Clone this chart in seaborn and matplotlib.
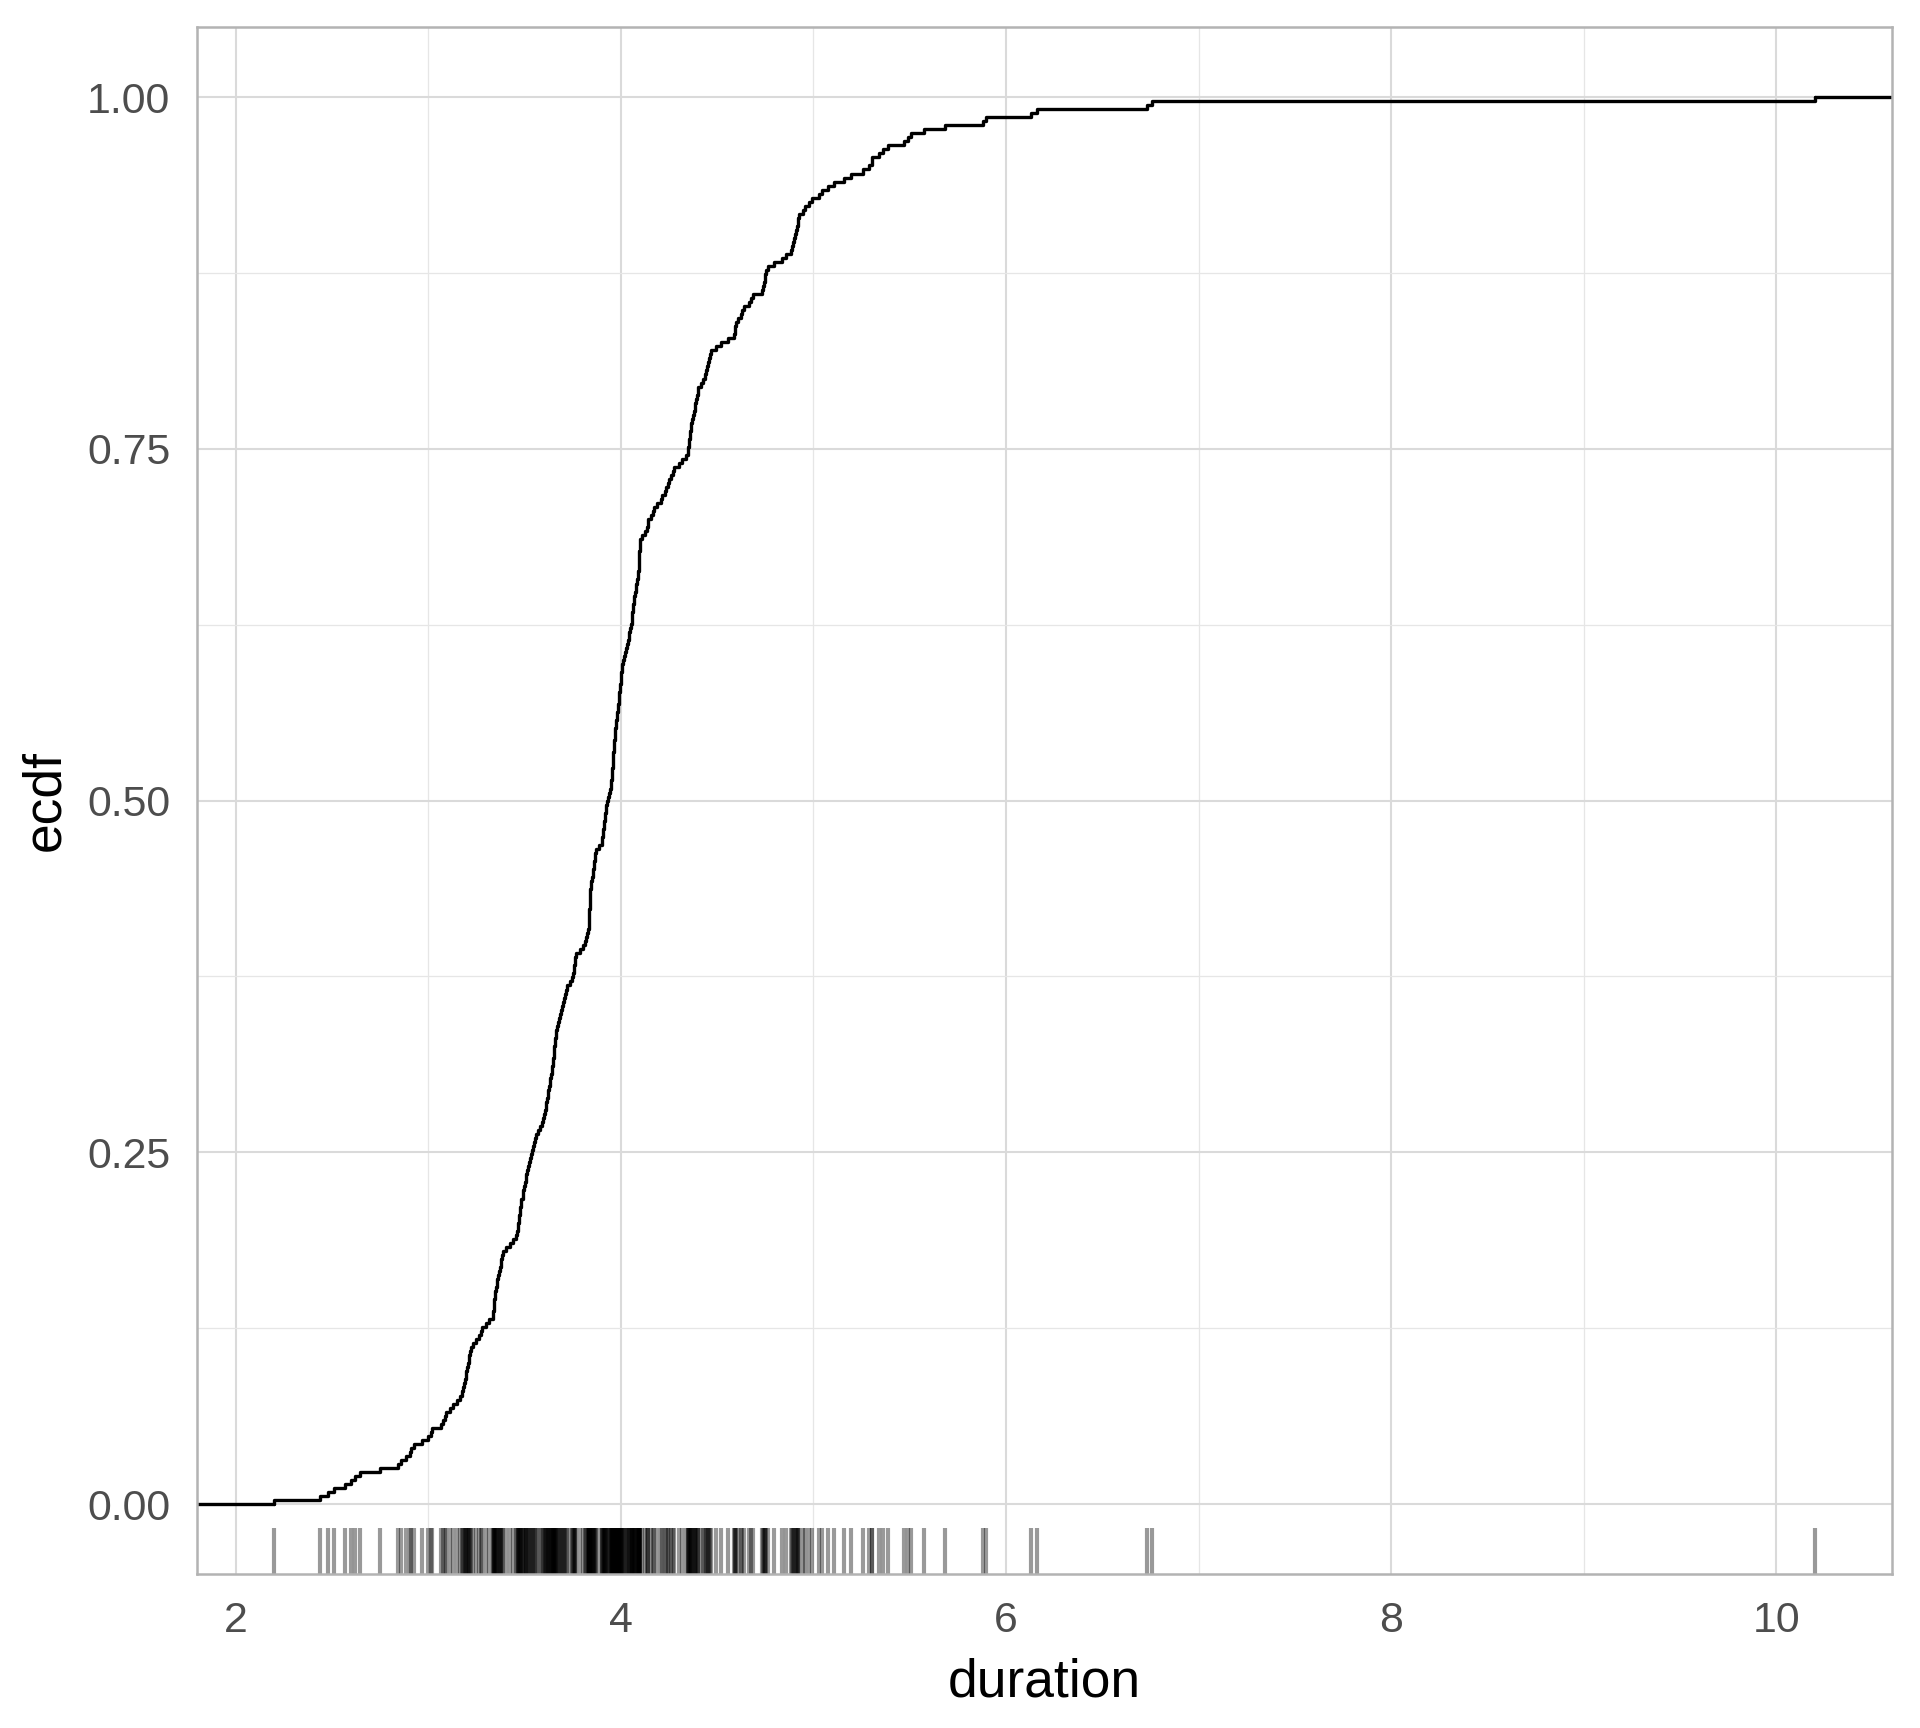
import numpy as np
import pandas as pd
import matplotlib
matplotlib.use("Agg")
import matplotlib.pyplot as plt
import seaborn as sns

tail_low = [2.200, 2.440, 2.480, 2.510, 2.570, 2.600, 2.620, 2.645, 2.750,
            2.845, 2.860, 2.885, 2.905, 2.910, 2.925,
            2.970, 3.000, 3.015, 3.020, 3.065, 3.075, 3.090, 3.095]
rise_a = [3.115, 3.130, 3.150, 3.165,
          3.175, 3.180, 3.185, 3.190, 3.195, 3.198,
          3.203, 3.207, 3.210, 3.214, 3.218, 3.222,
          3.235, 3.250, 3.262, 3.272, 3.282,
          3.300, 3.318, 3.335,
          3.338, 3.340, 3.342, 3.344, 3.346, 3.348,
          3.352, 3.356, 3.360, 3.364, 3.368, 3.372, 3.376, 3.380, 3.384, 3.388,
          3.405, 3.425, 3.440, 3.455,
          3.462, 3.465, 3.468, 3.471, 3.474, 3.477, 3.479, 3.481, 3.484]
rise_b = [3.490, 3.494, 3.498, 3.502, 3.506, 3.510, 3.514, 3.518, 3.522, 3.527, 3.533,
          3.540, 3.545, 3.550, 3.554, 3.558,
          3.570, 3.580, 3.590, 3.598,
          3.603, 3.607, 3.610, 3.614, 3.617, 3.621, 3.624, 3.628, 3.631, 3.635, 3.638,
          3.642, 3.644, 3.646, 3.648, 3.651, 3.653, 3.656, 3.658, 3.661, 3.663, 3.666, 3.668,
          3.674, 3.679, 3.684, 3.688,
          3.694, 3.700, 3.706, 3.712, 3.717, 3.722,
          3.735, 3.747,
          3.753, 3.756, 3.759, 3.762, 3.765, 3.768,
          3.790,
          3.806, 3.813, 3.820, 3.827]
centre = [3.832, 3.833, 3.834, 3.835, 3.836, 3.837, 3.838, 3.839, 3.840, 3.841, 3.842, 3.844,
          3.848, 3.851, 3.854, 3.857, 3.860, 3.862, 3.864, 3.866, 3.869,
          3.885,
          3.902, 3.905, 3.907, 3.909, 3.911, 3.914,
          3.917, 3.920, 3.923, 3.926, 3.929,
          3.934, 3.938, 3.942, 3.947,
          3.952, 3.953, 3.955, 3.956, 3.958, 3.959, 3.961, 3.962, 3.964, 3.965,
          3.967, 3.968, 3.970, 3.972, 3.974,
          3.977, 3.980, 3.982, 3.984, 3.986, 3.989,
          3.991, 3.993, 3.995, 3.997, 3.999, 4.001, 4.003, 4.006, 4.009,
          4.014, 4.019, 4.024, 4.029, 4.034, 4.038,
          4.042, 4.045, 4.048, 4.052, 4.056,
          4.059, 4.061, 4.064, 4.066, 4.068, 4.071, 4.073,
          4.077, 4.081, 4.084, 4.088, 4.091,
          4.093, 4.094, 4.095, 4.096, 4.097, 4.098, 4.099, 4.100]
upper = [4.112, 4.125, 4.135, 4.140, 4.143,
         4.155, 4.168, 4.173,
         4.190, 4.208, 4.212,
         4.228, 4.235, 4.246, 4.249,
         4.262, 4.270, 4.274,
         4.300, 4.318, 4.340, 4.348,
         4.351, 4.353, 4.356, 4.358, 4.361, 4.363, 4.366, 4.368,
         4.374, 4.379, 4.383, 4.387, 4.391, 4.395, 4.399, 4.403,
         4.415, 4.427, 4.438,
         4.443, 4.448, 4.453, 4.458, 4.463, 4.467,
         4.495, 4.518, 4.557,
         4.587, 4.591, 4.595, 4.598,
         4.610, 4.622, 4.630, 4.638,
         4.665, 4.678, 4.688,
         4.734, 4.738, 4.742, 4.747, 4.751, 4.756, 4.762,
         4.795, 4.838, 4.860, 4.883,
         4.888, 4.893, 4.898,
         4.903, 4.908, 4.913, 4.918, 4.922, 4.926,
         4.945, 4.957, 4.977, 4.995]
tail_high = [5.030, 5.047, 5.076, 5.108, 5.160, 5.198, 5.259,
             5.290, 5.302, 5.305, 5.340, 5.363, 5.390,
             5.472, 5.490, 5.507, 5.576, 5.684, 5.880, 5.897,
             6.128, 6.161, 6.730, 6.760, 10.200]

duration = np.array(tail_low + rise_a + rise_b + centre + upper + tail_high)
df = pd.DataFrame({"duration": duration})

x_breaks = [2, 4, 6, 8, 10]
y_breaks = [0.00, 0.25, 0.50, 0.75, 1.00]

sns.set_style("white")
plt.rcParams["font.family"] = ["Liberation Sans", "DejaVu Sans"]

fig = plt.figure(figsize=(6.4, 5.76), dpi=300)
ax = fig.add_axes([0.1026, 0.0889, 0.8828, 0.8956])

# ggplot-like 5% expansion
lo, hi = df["duration"].min(), df["duration"].max()
pad = 0.05 * (hi - lo)
xlim = (lo - pad, hi + pad)
ylim = (-0.05, 1.05)

sns.ecdfplot(data=df, x="duration", color="black", lw=0.8, ax=ax)
# pad the step line to the panel edges like stat_ecdf(pad = TRUE)
ax.plot([xlim[0], lo], [0, 0], color="black", lw=0.8)
ax.plot([hi, xlim[1]], [1, 1], color="black", lw=0.8)
sns.rugplot(data=df, x="duration", height=0.03, color="black", alpha=0.4,
            lw=0.45, ax=ax)

ax.set_xlim(xlim)
ax.set_ylim(ylim)
ax.set_xticks(x_breaks)
ax.set_xticks([3, 5, 7, 9], minor=True)
ax.set_yticks(y_breaks)
ax.set_yticklabels([f"{v:.2f}" for v in y_breaks])
ax.set_yticks([0.125, 0.375, 0.625, 0.875], minor=True)

ax.grid(which="major", color="#DADADA", lw=0.5)
ax.grid(which="minor", color="#E6E6E6", lw=0.3)
ax.set_axisbelow(True)
for s in ax.spines.values():
    s.set_color("#B3B3B3")
    s.set_linewidth(0.6)

ax.tick_params(which="major", length=3.4, width=0.5, color="#B3B3B3",
               labelsize=10.3, labelcolor="#4D4D4D", pad=3)
ax.tick_params(which="minor", length=0)
ax.set_xlabel("duration", fontsize=12.8, color="black", labelpad=4)
ax.set_ylabel("ecdf", fontsize=12.8, color="black", labelpad=4)

fig.savefig("out.png", dpi=300)
